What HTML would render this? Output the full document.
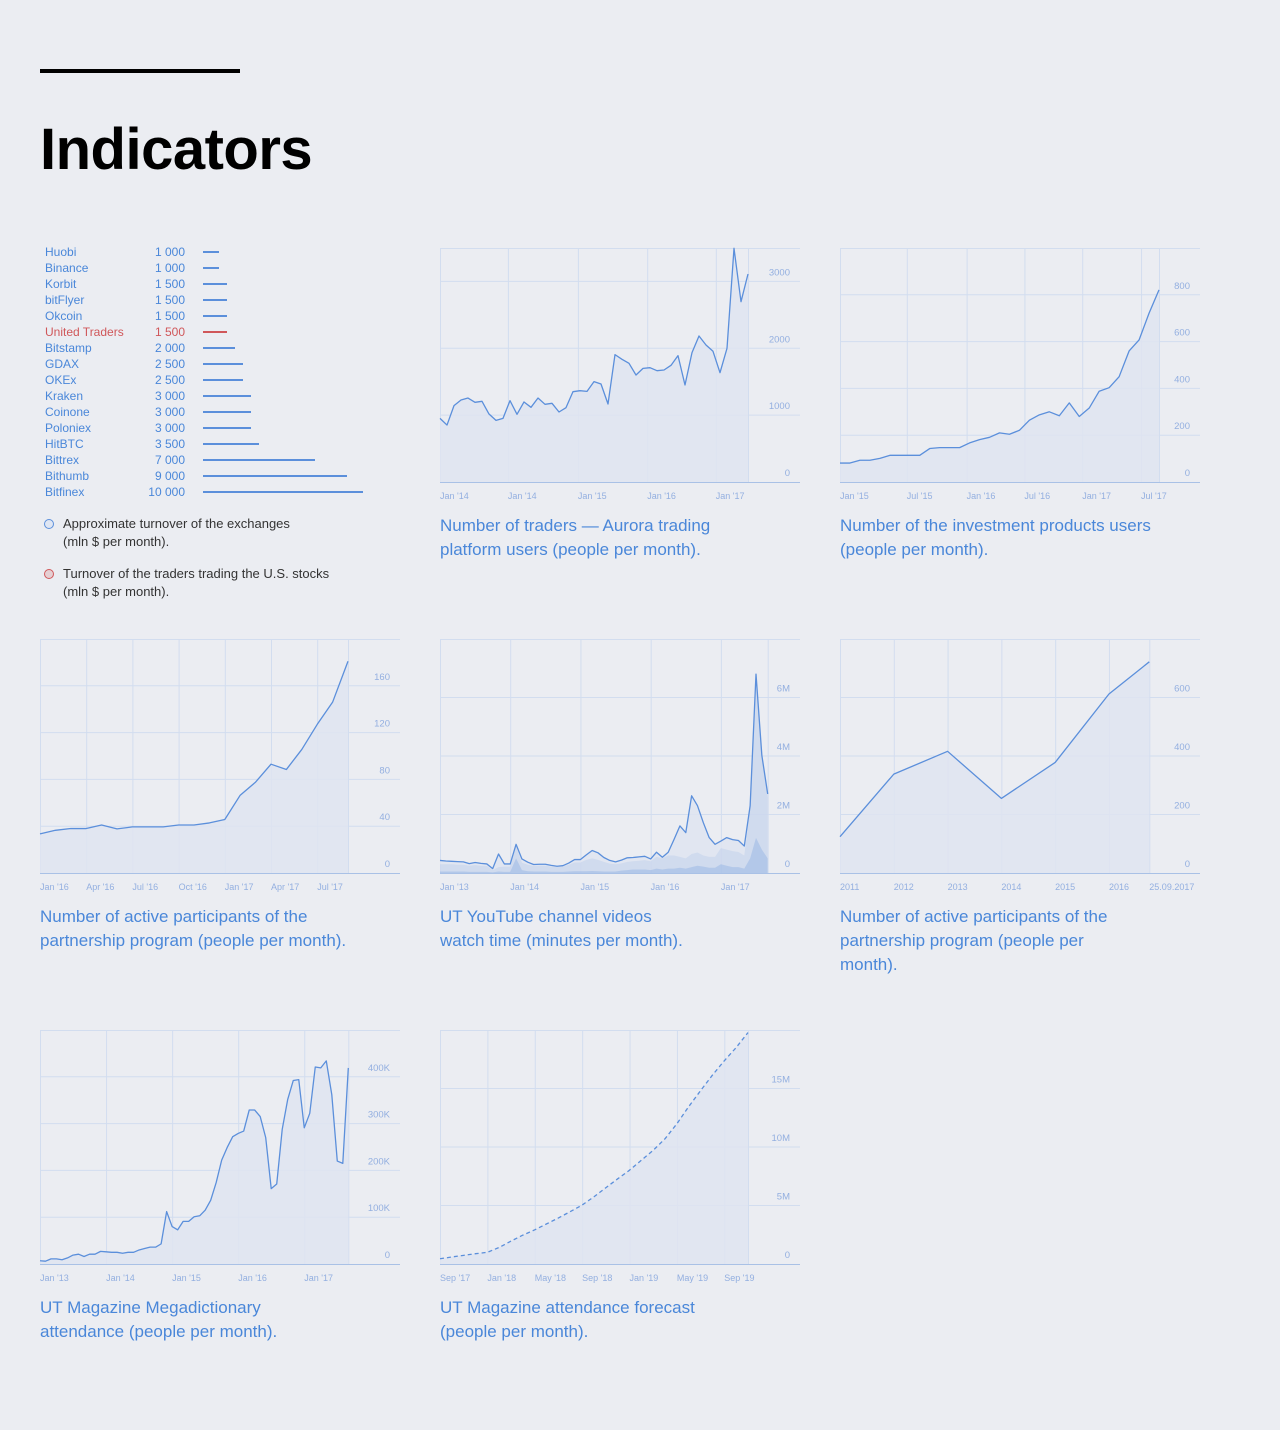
<!DOCTYPE html>
<html><head><meta charset="utf-8"><title>Indicators</title>
<style>
html,body{margin:0;padding:0;background:#ebedf2;}
body{width:1280px;height:1430px;position:relative;overflow:hidden;font-family:"Liberation Sans",sans-serif;}
.abs{position:absolute;}
.rule{left:40px;top:69px;width:200px;height:4px;background:#000;}
.title{left:40px;top:121px;font-size:58px;line-height:58px;font-weight:bold;color:#000;letter-spacing:-0.5px;}
.cap{position:absolute;width:320px;font-size:17px;line-height:24px;color:#4a87d9;}
.row{position:absolute;left:45px;height:16px;font-size:12px;line-height:16px;color:#4a87d9;}
.row .v{position:absolute;left:0;width:140px;text-align:right;top:0;}
.row .b{position:absolute;left:158px;top:7px;height:2px;background:#5b8fdb;}
.row.red{color:#d0575a;}
.row.red .b{background:#d0575a;}
.leg{position:absolute;left:63px;font-size:13px;line-height:18px;color:#333;width:300px;}
.dot{position:absolute;left:44px;width:10px;height:10px;border-radius:50%;box-sizing:border-box;}
svg{position:absolute;overflow:visible;}
</style></head>
<body>
<div class="abs rule"></div>
<div class="abs title">Indicators</div>

<div id="exlist"></div>

<div class="dot" style="top:519px;border:1.5px solid #5b8fdb;background:#dfe6f3;"></div>
<div class="leg" style="top:515px;">Approximate turnover of the exchanges<br>(mln $ per month).</div>
<div class="dot" style="top:569px;border:1.5px solid #d0575a;background:#e5cfd3;"></div>
<div class="leg" style="top:565px;">Turnover of the traders trading the U.S. stocks<br>(mln $ per month).</div>

<div class="cap" style="left:440px;top:514px;">Number of traders — Aurora trading platform users (people per month).</div>
<div class="cap" style="left:840px;top:514px;">Number of the investment products users (people per month).</div>
<div class="cap" style="left:40px;top:905px;">Number of active participants of the partnership program (people per month).</div>
<div class="cap" style="left:440px;top:905px;width:300px;">UT YouTube channel videos<br>watch time (minutes per month).</div>
<div class="cap" style="left:840px;top:905px;width:270px;">Number of active participants of the partnership program (people per month).</div>
<div class="cap" style="left:40px;top:1296px;width:300px;">UT Magazine Megadictionary<br>attendance (people per month).</div>
<div class="cap" style="left:440px;top:1296px;width:300px;">UT Magazine attendance forecast<br>(people per month).</div>

<script>
// ---- exchange list data ----
const exNames = ["Huobi","Binance","Korbit","bitFlyer","Okcoin","United Traders","Bitstamp","GDAX","OKEx","Kraken","Coinone","Poloniex","HitBTC","Bittrex","Bithumb","Bitfinex"];
const exValues = [1000,1000,1500,1500,1500,1500,2000,2500,2500,3000,3000,3000,3500,7000,9000,10000];
const exLabels = ["1 000","1 000","1 500","1 500","1 500","1 500","2 000","2 500","2 500","3 000","3 000","3 000","3 500","7 000","9 000","10 000"];

// ---- chart 1: traders ----
const tradersVals = [952,852,1142,1226,1256,1192,1207,1017,922,952,1217,1012,1197,1117,1256,1162,1177,1047,1112,1351,1366,1356,1501,1466,1167,1905,1835,1775,1600,1700,1710,1665,1675,1745,1890,1451,1935,2184,2049,1955,1635,2000,3495,2697,3111];
const tradersTicks = [0,1000,2000,3000];
const tradersTickLabels = ["0","1000","2000","3000"];
const tradersXLabels = ["Jan '14","Jan '14","Jan '15","Jan '16","Jan '17"];

// ---- chart 2: investment products ----
const investVals = [81,81,93,93,101,114,114,114,114,143,147,147,147,167,181,191,210,204,221,264,287,300,283,338,280,316,388,403,450,560,607,721,821];
const investTicks = [0,200,400,600,800];
const investTickLabels = ["0","200","400","600","800"];
const investXLabels = ["Jan '15","Jul '15","Jan '16","Jul '16","Jan '17","Jul '17"];

// ---- chart 3: partnership monthly ----
const partnerVals = [33.4,36.5,38,38,41,37.7,39.4,39.4,39.4,41,41,42.8,45.7,66.5,77.7,93,88.5,105.6,127,146,181];
const partnerTicks = [0,40,80,120,160];
const partnerTickLabels = ["0","40","80","120","160"];
const partnerXLabels = ["Jan '16","Apr '16","Jul '16","Oct '16","Jan '17","Apr '17","Jul '17"];

// ---- chart 4: youtube (millions) ----
const ytTotal = [.43,.41,.40,.39,.38,.32,.36,.33,.31,.15,.65,.31,.31,.98,.48,.37,.29,.30,.30,.26,.23,.25,.34,.46,.46,.62,.77,.69,.53,.43,.38,.44,.52,.53,.55,.57,.48,.71,.54,.71,1.15,1.61,1.38,2.64,2.3,1.72,1.21,.98,1.09,1.21,1.14,1.11,.92,2.3,6.8,4.02,2.7];
const ytLayer2 = [.3,.3,.3,.28,.28,.25,.27,.25,.24,.1,.2,.22,.22,.9,.35,.28,.24,.25,.25,.22,.2,.22,.28,.36,.36,.45,.5,.45,.38,.32,.3,.33,.38,.4,.42,.44,.4,.55,.5,.6,.6,.55,.5,.65,.7,.6,.55,.55,.85,.8,.75,.72,.6,2.2,6.6,3.9,2.6];
const ytLayer3 = [.05,.05,.05,.05,.05,.04,.04,.04,.04,.02,.05,.04,.04,.5,.1,.06,.05,.05,.05,.04,.04,.04,.05,.06,.06,.06,.07,.06,.05,.05,.05,.08,.1,.12,.12,.12,.1,.15,.12,.15,.15,.18,.15,.2,.25,.22,.18,.18,.3,.25,.2,.2,.15,.5,1.2,.8,.5];
const ytTicks = [0,2,4,6];
const ytTickLabels = ["0","2M","4M","6M"];
const ytXLabels = ["Jan '13","Jan '14","Jan '15","Jan '16","Jan '17"];

// ---- chart 5: partnership yearly ----
const yearVals = [124,338,416,255,378,612,722];
const yearTicks = [0,200,400,600];
const yearTickLabels = ["0","200","400","600"];
const yearXLabels = ["2011","2012","2013","2014","2015","2016","25.09.2017"];

// ---- chart 6: megadictionary (thousands) ----
const megaVals = [7,6,11,11,9,13,19,21,16,21,21,27,26,25,25,23,25,25,30,33,36,36,43,112,80,73,91,91,101,103,115,136,174,222,249,272,279,284,329,329,315,270,161,171,288,352,392,394,291,322,421,419,434,362,220,215,419];
const megaTicks = [0,100,200,300,400];
const megaTickLabels = ["0","100K","200K","300K","400K"];
const megaXLabels = ["Jan '13","Jan '14","Jan '15","Jan '16","Jan '17"];

// ---- chart 7: forecast (millions) ----
const fcVals = [.45,.6,.74,.88,1.0,1.42,1.96,2.47,2.92,3.43,3.94,4.48,5.04,5.75,6.52,7.28,8.02,8.87,9.72,10.71,11.99,13.46,14.82,16.15,17.37,18.5,19.78];
const fcTicks = [0,5,10,15];
const fcTickLabels = ["0","5M","10M","15M"];
const fcXLabels = ["Sep '17","Jan '18","May '18","Sep '18","Jan '19","May '19","Sep '19"];

// ---------- build exchange list ----------
const exMax = 10000, exBarMax = 160;
function barW(v){ return v/exMax*exBarMax; }
const exRoot = document.getElementById('exlist');
exNames.forEach((n,i)=>{
  const r = document.createElement('div');
  
  
  r.className = 'row' + (n==='United Traders' ? ' red' : '');
  r.style.top = (244 + i*16) + 'px';
  r.style.width = '330px';
  const nm = document.createElement('span');
  
  
  nm.textContent = n;
  const v = document.createElement('span');
  
  
  v.className = 'v';
  v.textContent = exLabels[i];
  const b = document.createElement('span');
  
  
  b.className = 'b';
  b.style.width = barW(exValues[i]) + 'px';
  r.appendChild(nm); r.appendChild(v); r.appendChild(b);
  exRoot.appendChild(r);
});

// ---------- generic area chart ----------
const NS = 'http://www.w3.org/2000/svg';
const W = 360, H = 234;
const GRID = '#d2ddef', AXIS = '#a9c1e6', LBL = '#93afe0', LINE = '#5b8fdb', FILL = '#dfe4f1';
function el(tag, attrs, parent){
  const e = document.createElementNS(NS, tag);
  for (const k in attrs) e.setAttribute(k, attrs[k]);
  parent.appendChild(e);
  return e;
}
function areaPath(vals, xs, ys, base){
  let d = 'M' + xs(0) + ',' + ys(base ? base[0] : 0);
  vals.forEach((v,i)=>{ d += ' L' + xs(i) + ',' + ys(v); });
  if (base){ for (let i = vals.length-1; i>=0; i--) d += ' L' + xs(i) + ',' + ys(base[i]); }
  else d += ' L' + xs(vals.length-1) + ',' + ys(0);
  return d + ' Z';
}
function chart(name, left, top, o){
  const svg = el('svg', {width:W, height:H+20}, document.body);
  
  
  svg.style.left = left + 'px'; svg.style.top = top + 'px';
  const xs = i => (o.idx ? o.idx(i) : i) / o.maxIdx * o.xEnd;
  const xg = i => i / o.maxIdx * o.xEnd;
  const ys = v => H - v / o.yMax * H;
  // horizontal grid
  const tl = el('line', {x1:0, x2:W, y1:0.5, y2:0.5, stroke:GRID, 'stroke-width':1}, svg);
  
  
  o.ticks.forEach((t,k)=>{
    if (t > 0){
      const g = el('line', {x1:0, x2:W, y1:ys(t), y2:ys(t), stroke:GRID, 'stroke-width':1}, svg);
      
      
    }
    const tx = el('text', {x:W-10, y:ys(t)-6, 'text-anchor':'end', 'font-size':9.5, fill:LBL, 'font-family':'Liberation Sans, sans-serif'}, svg);
    
    
    tx.textContent = o.tickLabels[k];
  });
  // vertical grid
  o.vGrid.forEach(g=>{
    const l = el('line', {x1:xg(g)+0.5, x2:xg(g)+0.5, y1:0, y2:H, stroke:GRID, 'stroke-width':1}, svg);
    
    
  });
  // areas
  const a = el('path', {d:areaPath(o.vals, xs, ys), fill:FILL, 'fill-opacity':0.85}, svg);
  
  
  (o.layers || []).forEach(L=>{
    const p = el('path', {d:areaPath(L.vals, xs, ys), fill:'#5b8fdb', 'fill-opacity':L.op}, svg);
    
    
  });
  // line
  const pts = o.vals.map((v,i)=> xs(i) + ',' + ys(v)).join(' ');
  const pl = el('polyline', {points:pts, fill:'none', stroke:LINE, 'stroke-width':1.3, 'stroke-linejoin':'round'}, svg);
  if (o.dashed) pl.setAttribute('stroke-dasharray', '4 3');
  
  
  // axis
  const ax = el('line', {x1:0, x2:W, y1:H+0.5, y2:H+0.5, stroke:AXIS, 'stroke-width':1}, svg);
  
  
  o.xLabels.forEach((t,k)=>{
    const tx = el('text', {x:xg(o.vGrid[k]), y:H+17, 'font-size':9, fill:LBL, 'font-family':'Liberation Sans, sans-serif'}, svg);
    
    
    tx.textContent = t;
  });
}

chart('traders-chart', 440, 248, {vals:tradersVals, maxIdx:44, xEnd:308, yMax:3500, ticks:tradersTicks, tickLabels:tradersTickLabels, vGrid:[0,9.7,19.7,29.6,39.4,44], xLabels:tradersXLabels});
chart('investment-products-chart', 840, 248, {vals:investVals, maxIdx:32, xEnd:319, yMax:1000, ticks:investTicks, tickLabels:investTickLabels, vGrid:[0,6.7,12.7,18.5,24.3,30.2,32], xLabels:investXLabels});
chart('partnership-monthly-chart', 40, 639, {vals:partnerVals, maxIdx:20, xEnd:308, yMax:200, ticks:partnerTicks, tickLabels:partnerTickLabels, vGrid:[0,3,6,9,12,15,18,20], xLabels:partnerXLabels});
chart('youtube-chart', 440, 639, {vals:ytTotal, maxIdx:56, xEnd:327.7, yMax:8, ticks:ytTicks, tickLabels:ytTickLabels, vGrid:[0,12,24,36,48,56], xLabels:ytXLabels, layers:[{vals:ytLayer2, op:0.12},{vals:ytLayer3, op:0.25}]});
chart('partnership-yearly-chart', 840, 639, {vals:yearVals, maxIdx:5.75, xEnd:309.3, yMax:800, ticks:yearTicks, tickLabels:yearTickLabels, vGrid:[0,1,2,3,4,5,5.75], xLabels:yearXLabels, idx:i=>[0,1,2,3,4,5,5.75][i]});
chart('megadictionary-chart', 40, 1030, {vals:megaVals, maxIdx:56, xEnd:308.3, yMax:500, ticks:megaTicks, tickLabels:megaTickLabels, vGrid:[0,12,24,36,48,56], xLabels:megaXLabels});
chart('forecast-chart', 440, 1030, {vals:fcVals, maxIdx:26, xEnd:308, yMax:20, ticks:fcTicks, tickLabels:fcTickLabels, vGrid:[0,4,8,12,16,20,24,26], xLabels:fcXLabels, dashed:true});
</script>
</body></html>
